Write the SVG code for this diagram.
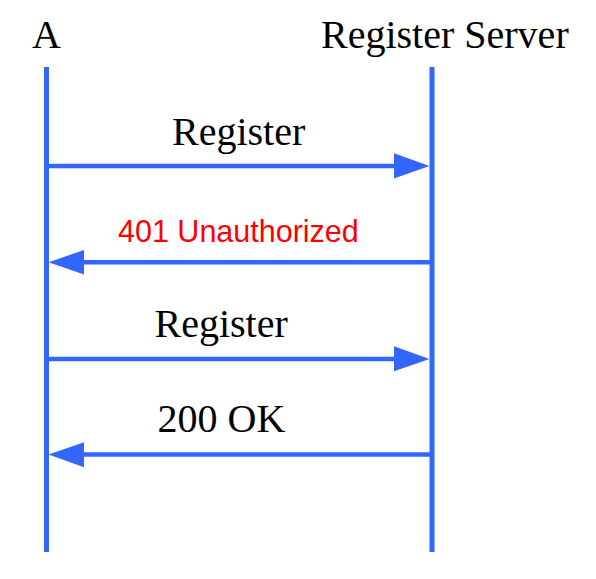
<svg xmlns="http://www.w3.org/2000/svg" width="596" height="579" viewBox="0 0 596 579">
<style>
.life{stroke:#3366FF;stroke-width:5;stroke-linecap:butt;fill:none}
.msg{stroke:#3366FF;stroke-width:4.5;fill:none}
.head{fill:#3366FF;stroke:none}
.t{font-family:"Liberation Serif","Times New Roman",serif;font-size:40px;fill:#000}
.r{font-family:"Liberation Sans",Arial,sans-serif;font-size:30.5px;fill:#FF0000}
</style>
<rect width="596" height="579" fill="#FFFFFF"/>
<g id="node-A">
<text class="t" x="32" y="47.5">A</text>
<line class="life" x1="46.5" y1="67" x2="46.5" y2="552"/>
</g>
<g id="node-RegisterServer">
<text class="t" x="321" y="48">Register Server</text>
<line class="life" x1="432" y1="67" x2="432" y2="552"/>
</g>
<g id="connectors">
<g id="msg1">
<line class="msg" x1="48" y1="166" x2="396" y2="166"/>
<polygon class="head" points="394,153.3 429.5,166 394,178.5"/>
<text class="t" x="172" y="145">Register</text>
</g>
<g id="msg2">
<line class="msg" x1="82" y1="262.3" x2="430" y2="262.3"/>
<polygon class="head" points="84,250 48.5,262.3 84,274.5"/>
<text class="r" x="118" y="241.5">401 Unauthorized</text>
</g>
<g id="msg3">
<line class="msg" x1="48" y1="359" x2="396" y2="359"/>
<polygon class="head" points="394,346.3 429.5,359 394,371.3"/>
<text class="t" x="154.5" y="336.7">Register</text>
</g>
<g id="msg4">
<line class="msg" x1="82" y1="454.5" x2="430" y2="454.5"/>
<polygon class="head" points="84,442.3 48.5,454.5 84,467.3"/>
<text class="t" x="157.5" y="431.7">200 OK</text>
</g>
</g>
</svg>
